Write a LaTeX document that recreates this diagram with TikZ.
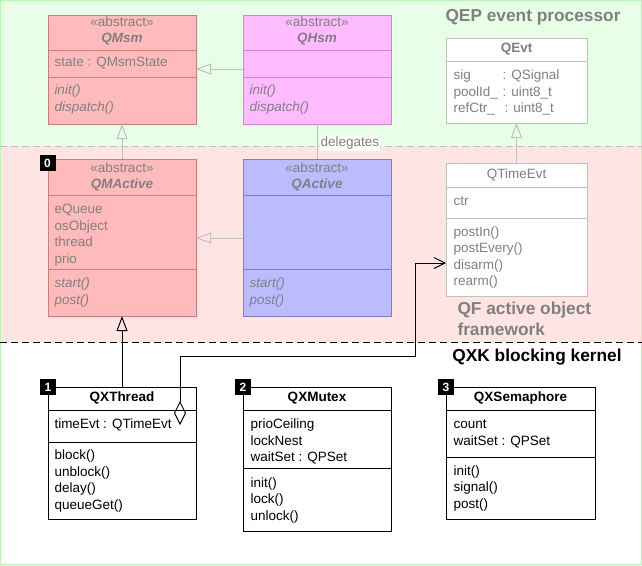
\documentclass[tikz,border=0pt]{standalone}
\usepackage{fontspec}
\setmainfont{Liberation Sans}
\usetikzlibrary{arrows.meta}

\definecolor{qepbg}{RGB}{230,255,230}
\definecolor{qepline}{RGB}{185,245,185}
\definecolor{qfbg}{RGB}{255,228,228}
\definecolor{qmsmfill}{RGB}{255,187,187}
\definecolor{qmsmline}{RGB}{205,125,125}
\definecolor{qhsmfill}{RGB}{255,187,255}
\definecolor{qhsmline}{RGB}{210,130,210}
\definecolor{qactfill}{RGB}{187,187,255}
\definecolor{qactline}{RGB}{125,125,205}
\definecolor{fadetext}{RGB}{128,128,128}
\definecolor{fadeline}{RGB}{192,192,192}

\begin{document}
\begin{tikzpicture}[x=1pt, y=-1pt, line width=1pt,
        classbox/.style={draw, anchor=north west, inner sep=0pt, outer sep=0pt},
        member/.style={anchor=west, inner sep=0pt, text height=10pt, text depth=3pt, font=\fontsize{13.5}{16}\selectfont},
        opname/.style={member, font=\fontsize{13.5}{16}\selectfont\itshape},
        cname/.style={inner sep=0pt, text height=10pt, text depth=3pt, font=\fontsize{13.5}{16}\selectfont\bfseries},
        absname/.style={cname, font=\fontsize{13.5}{16}\selectfont\bfseries\itshape},
        stereo/.style={member, anchor=center},
        fade/.style={text=fadetext},
        badge/.style={fill=black, text=white, minimum size=16pt, inner sep=0pt, font=\fontsize{12}{12}\selectfont\bfseries},
        layer/.style={inner sep=0pt, font=\fontsize{17.3}{20}\selectfont\bfseries},
        inherit/.style={-{Triangle[open, length=15pt, width=11pt]}},
    ]
    \useasboundingbox (0,0) rectangle (642,565);

    % layers
    \fill[white] (0,0) rectangle (642,565);
    \fill[qepbg] (0.5,0.5) rectangle (641.5,146);
    \fill[qfbg] (0.5,146) rectangle (641.5,342);
    \draw[qepline] (0.5,0.5) rectangle (641.5,564.5);
    \draw[fadeline, dash pattern=on 7pt off 4pt] (0,146) -- (642,146);
    \draw[black, dash pattern=on 7pt off 4pt] (0,342) -- (642,342);

    \node[layer, fade] (qep) at (533,17) {QEP event processor};
    \node[layer, fade, anchor=west] (qf1) at (457,310) {QF active object};
    \node[layer, fade, anchor=west] (qf2) at (457,329) {framework};
    \node[layer] (qxk) at (537,357) {QXK blocking kernel};

    % QMsm
    \node[classbox, draw=qmsmline, fill=qmsmfill, minimum width=148pt, minimum height=109pt] (qmsm) at (48,15) {};
    \draw[qmsmline] (qmsm.west |- 0,50) -- (qmsm.east |- 0,50);
    \draw[qmsmline] (qmsm.west |- 0,77) -- (qmsm.east |- 0,77);
    \node[stereo, fade] (qmsm-st) at (qmsm.north |- 0,23) {«abstract»};
    \node[absname, fade] (qmsm-nm) at (qmsm.north |- 0,39) {QMsm};
    \node[member, fade] (qmsm-a1) at (54,63) {state : QMsmState};
    \node[opname, fade] (qmsm-o1) at (54,91) {init()};
    \node[opname, fade] (qmsm-o2) at (54,107.5) {dispatch()};

    % QHsm
    \node[classbox, draw=qhsmline, fill=qhsmfill, minimum width=148pt, minimum height=109pt] (qhsm) at (243,15) {};
    \draw[qhsmline] (qhsm.west |- 0,50) -- (qhsm.east |- 0,50);
    \draw[qhsmline] (qhsm.west |- 0,77) -- (qhsm.east |- 0,77);
    \node[stereo, fade] (qhsm-st) at (qhsm.north |- 0,23) {«abstract»};
    \node[absname, fade] (qhsm-nm) at (qhsm.north |- 0,39) {QHsm};
    \node[opname, fade] (qhsm-o1) at (249,91) {init()};
    \node[opname, fade] (qhsm-o2) at (249,107.5) {dispatch()};

    % QEvt
    \node[classbox, draw=fadeline, fill=white, minimum width=141pt, minimum height=85pt] (qevt) at (446,38) {};
    \draw[fadeline] (qevt.west |- 0,61) -- (qevt.east |- 0,61);
    \node[cname, fade] (qevt-nm) at (qevt.north |- 0,49) {QEvt};
    \node[member, fade] (qevt-a1) at (453,76) {sig};
    \node[member, fade] (qevt-a2) at (453,92.5) {poolId\_};
    \node[member, fade] (qevt-a3) at (453,109) {refCtr\_};
    \node[member, fade] (qevt-t1) at (502,76) {: QSignal};
    \node[member, fade] (qevt-t2) at (502,92.5) {: uint8\_t};
    \node[member, fade] (qevt-t3) at (504,109) {: uint8\_t};

    % QMActive
    \node[classbox, draw=qmsmline, fill=qmsmfill, minimum width=148pt, minimum height=157pt] (qmactive) at (48,159) {};
    \draw[qmsmline] (qmactive.west |- 0,195) -- (qmactive.east |- 0,195);
    \draw[qmsmline] (qmactive.west |- 0,269) -- (qmactive.east |- 0,269);
    \node[stereo, fade] (qma-st) at (qmactive.north |- 0,169) {«abstract»};
    \node[absname, fade] (qma-nm) at (qmactive.north |- 0,185) {QMActive};
    \node[member, fade] (qma-a1) at (54,210) {eQueue};
    \node[member, fade] (qma-a2) at (54,226.5) {osObject};
    \node[member, fade] (qma-a3) at (54,243) {thread};
    \node[member, fade] (qma-a4) at (54,259.5) {prio};
    \node[opname, fade] (qma-o1) at (54,284) {start()};
    \node[opname, fade] (qma-o2) at (54,301) {post()};
    \node[badge] (b0) at (47.5,163) {0};

    % QActive
    \node[classbox, draw=qactline, fill=qactfill, minimum width=148pt, minimum height=157pt] (qactive) at (243,159) {};
    \draw[qactline!70!gray] (qactive.west |- 0,195) -- (qactive.east |- 0,195);
    \draw[qactline!70!gray] (qactive.west |- 0,269) -- (qactive.east |- 0,269);
    \node[stereo, fade] (qa-st) at (qactive.north |- 0,169) {«abstract»};
    \node[absname, fade] (qa-nm) at (qactive.north |- 0,185) {QActive};
    \node[opname, fade] (qa-o1) at (249,284) {start()};
    \node[opname, fade] (qa-o2) at (249,301) {post()};

    % QTimeEvt
    \node[classbox, draw=fadeline, fill=white, minimum width=141pt, minimum height=133pt] (qtimeevt) at (446,163) {};
    \draw[fadeline] (qtimeevt.west |- 0,187) -- (qtimeevt.east |- 0,187);
    \draw[fadeline] (qtimeevt.west |- 0,218) -- (qtimeevt.east |- 0,218);
    \node[cname, font=\fontsize{13.5}{16}\selectfont, fade] (qte-nm) at (qtimeevt.north |- 0,175) {QTimeEvt};
    \node[member, fade] (qte-a1) at (453,201.5) {ctr};
    \node[member, fade] (qte-o1) at (453,232.5) {postIn()};
    \node[member, fade] (qte-o2) at (453,249) {postEvery()};
    \node[member, fade] (qte-o3) at (453,265.5) {disarm()};
    \node[member, fade] (qte-o4) at (453,282) {rearm()};

    % QXThread
    \node[classbox, draw=black, fill=white, minimum width=148pt, minimum height=132pt] (qxthread) at (48,387) {};
    \draw (qxthread.west |- 0,410) -- (qxthread.east |- 0,410);
    \draw (qxthread.west |- 0,442) -- (qxthread.east |- 0,442);
    \node[cname] (qxt-nm) at (qxthread.north |- 0,398) {QXThread};
    \node[member] (qxt-a1) at (54,425) {timeEvt : QTimeEvt};
    \node[member] (qxt-o1) at (54,456) {block()};
    \node[member] (qxt-o2) at (54,472.5) {unblock()};
    \node[member] (qxt-o3) at (54,489) {delay()};
    \node[member] (qxt-o4) at (54,505.5) {queueGet()};
    \node[badge] (b1) at (qxthread.north west) {1};

    % QXMutex
    \node[classbox, draw=black, fill=white, minimum width=148pt, minimum height=144pt] (qxmutex) at (243,387) {};
    \draw (qxmutex.west |- 0,410) -- (qxmutex.east |- 0,410);
    \draw (qxmutex.west |- 0,468) -- (qxmutex.east |- 0,468);
    \node[cname] (qxm-nm) at (qxmutex.north |- 0,398) {QXMutex};
    \node[member] (qxm-a1) at (250,425) {prioCeiling};
    \node[member] (qxm-a2) at (250,441.5) {lockNest};
    \node[member] (qxm-a3) at (250,458) {waitSet : QPSet};
    \node[member] (qxm-o1) at (250,483.5) {init()};
    \node[member] (qxm-o2) at (250,500) {lock()};
    \node[member] (qxm-o3) at (250,516.5) {unlock()};
    \node[badge] (b2) at (qxmutex.north west) {2};

    % QXSemaphore
    \node[classbox, draw=black, fill=white, minimum width=149pt, minimum height=132pt] (qxsema) at (446,387) {};
    \draw (qxsema.west |- 0,410) -- (qxsema.east |- 0,410);
    \draw (qxsema.west |- 0,457) -- (qxsema.east |- 0,457);
    \node[cname] (qxs-nm) at (qxsema.north |- 0,398) {QXSemaphore};
    \node[member] (qxs-a1) at (453,425) {count};
    \node[member] (qxs-a2) at (453,441.5) {waitSet : QPSet};
    \node[member] (qxs-o1) at (453,471.5) {init()};
    \node[member] (qxs-o2) at (453,488) {signal()};
    \node[member] (qxs-o3) at (453,504.5) {post()};
    \node[badge] (b3) at (qxsema.north west) {3};

    % connectors
    \draw[fadeline, inherit] (qhsm.west |- 0,69) -- (qmsm.east |- 0,69);
    \draw[fadeline, inherit] (qmactive.north) -- (qmsm.south);
    \draw[fadeline, inherit] (qactive.west |- 0,238) -- (qmactive.east |- 0,238);
    \draw[fadeline, inherit] (qtimeevt.north) -- (qevt.south);
    \draw[fadeline] (qhsm.south) -- (qactive.north);
    \node[member, fade, fill=white, inner sep=1pt] (deleg) at (319,143) {delegates};
    \draw[black, inherit] (qxthread.north) -- (qmactive.south);
    \coordinate (agg) at (180,425);
    \draw[black, {Diamond[open, length=24pt, width=12pt]}-{Straight Barb[length=11pt, width=11pt]}]
        (agg) -- (180,356) -- (415,356) -- (415,263) -- (qtimeevt.west |- 0,263);
\end{tikzpicture}
\end{document}
